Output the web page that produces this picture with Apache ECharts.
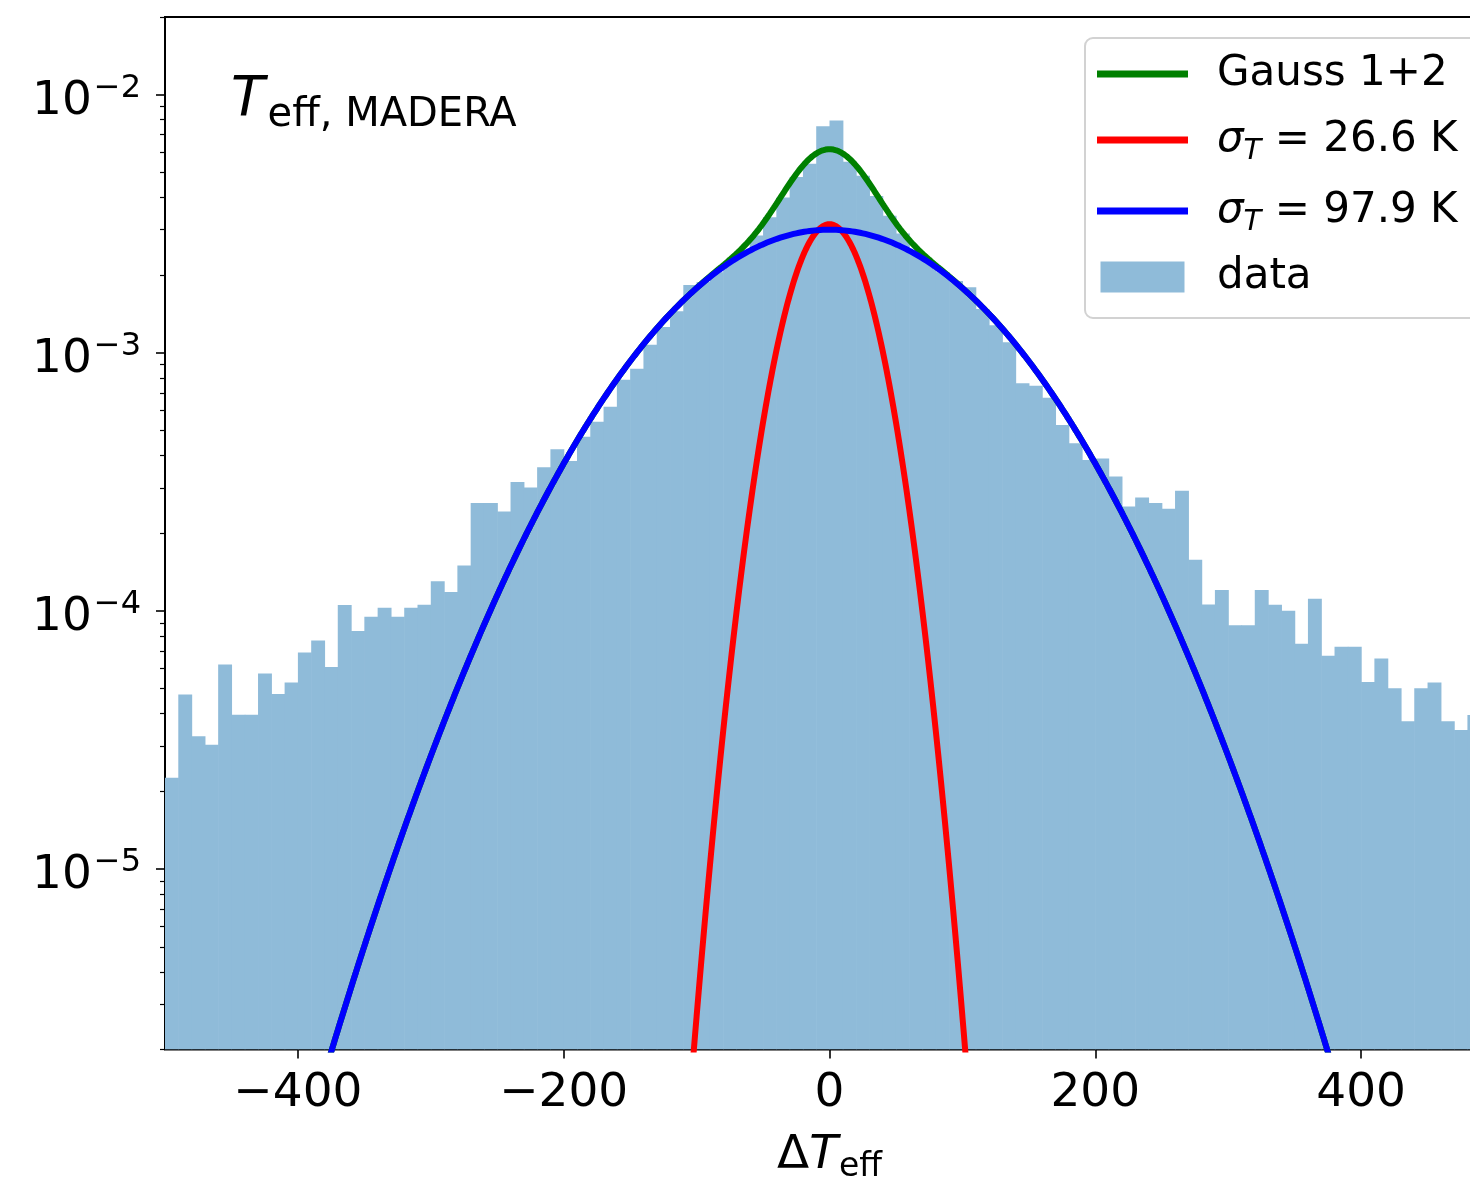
<!DOCTYPE html>
<html>
<head>
<meta charset="utf-8">
<script src="https://cdn.jsdelivr.net/npm/echarts@6/dist/echarts.min.js"></script>
<style>
  html, body { margin: 0; padding: 0; overflow: hidden; background: #ffffff; }
  #chart { width: 1500px; height: 1189px; }
</style>
</head>
<body>
<div id="chart"></div>
<script>
// Residual histogram ΔT_eff (density per K), 10 K bins from -500 K to +500 K
const binStart = -500;
const binWidth = 10;
const density = [
  2.26e-5, 4.75e-5, 3.27e-5, 3.03e-5, 6.20e-5, 3.96e-5, 3.96e-5, 5.72e-5, 4.77e-5, 5.28e-5,
  6.90e-5, 7.69e-5, 6.07e-5, 1.054e-4, 8.36e-5, 9.50e-5, 1.028e-4, 9.50e-5, 1.028e-4, 1.057e-4,
  1.304e-4, 1.185e-4, 1.50e-4, 2.62e-4, 2.62e-4, 2.43e-4, 3.16e-4, 3.01e-4, 3.60e-4, 4.23e-4,
  3.81e-4, 4.73e-4, 5.41e-4, 6.18e-4, 7.87e-4, 8.68e-4, 1.074e-3, 1.26e-3, 1.45e-3, 1.83e-3,
  1.88e-3, 2.05e-3, 2.25e-3, 2.50e-3, 2.85e-3, 3.35e-3, 4.00e-3, 4.80e-3, 5.40e-3, 7.55e-3,
  7.94e-3, 5.50e-3, 4.85e-3, 4.05e-3, 3.40e-3, 2.90e-3, 2.50e-3, 2.25e-3, 2.05e-3, 1.90e-3,
  1.795e-3, 1.48e-3, 1.28e-3, 1.10e-3, 7.62e-4, 7.46e-4, 6.70e-4, 5.25e-4, 4.46e-4, 3.84e-4,
  3.90e-4, 3.32e-4, 2.54e-4, 2.75e-4, 2.62e-4, 2.49e-4, 2.92e-4, 1.58e-4, 1.06e-4, 1.205e-4,
  8.81e-5, 8.81e-5, 1.205e-4, 1.057e-4, 1.002e-4, 7.47e-5, 1.114e-4, 6.71e-5, 7.27e-5, 7.27e-5,
  5.30e-5, 6.55e-5, 5.02e-5, 3.74e-5, 5.02e-5, 5.28e-5, 3.74e-5, 3.46e-5, 3.95e-5, 3.60e-5
];

// Two-component Gaussian fit (peak density, width in K)
const fitSigma = [26.6, 97.9];
const fitPeak = [3.15e-3, 3.0e-3];
const seriesNames = ['Gauss 1+2', 'σT = 26.6 K', 'σT = 97.9 K', 'data'];
const lineColors = ['#008000', '#ff0000', '#0000ff'];
const histColor = '#8fbbd9';

// Axes
const xRange = [-500, 500];
const yRange = [2e-6, 2e-2];
const xTickValues = [-400, -200, 0, 200, 400];
const yMajorTicks = [1e-5, 1e-4, 1e-3, 1e-2];
const yMinorTicks = [];
for (let e = -6; e <= -2; e++) {
  for (let m = 2; m <= 9; m++) {
    const v = m * Math.pow(10, e);
    if (v >= yRange[0] * 0.999 && v <= yRange[1] * 1.001) yMinorTicks.push(v);
  }
}

const FONT = 'DejaVu Sans';

const histData = density.map((v, i) => [binStart + i * binWidth, binStart + (i + 1) * binWidth, v]);

function gauss(x, peak, sigma) {
  return peak * Math.exp(-x * x / (2 * sigma * sigma));
}
const curveX = [];
for (let x = xRange[0]; x <= xRange[1]; x += 1) curveX.push(x);
const keep = p => p[1] > 1e-7;
const narrowCurve = curveX.map(x => [x, gauss(x, fitPeak[0], fitSigma[0])]).filter(keep);
const wideCurve = curveX.map(x => [x, gauss(x, fitPeak[1], fitSigma[1])]).filter(keep);
const sumCurve = curveX.map(x => [x, gauss(x, fitPeak[0], fitSigma[0]) + gauss(x, fitPeak[1], fitSigma[1])]).filter(keep);

function renderBin(params, api) {
  const x0 = api.value(0), x1 = api.value(1), v = api.value(2);
  const top = api.coord([x0, v]);
  const bottom = api.coord([x1, yRange[0]]);
  return {
    type: 'rect',
    shape: { x: top[0], y: top[1], width: bottom[0] - top[0] + 0.6, height: bottom[1] - top[1] },
    style: { fill: histColor }
  };
}

const legendText = {
  'Gauss 1+2': '{n|Gauss 1+2}',
  'σT = 26.6 K': '{g|σ}{sb|T}{m| = 26.6 K}',
  'σT = 97.9 K': '{g|σ}{sb|T}{m| = 97.9 K}',
  'data': '{n|data}'
};

const chart = echarts.init(document.getElementById('chart'), null, { renderer: 'canvas' });

chart.setOption({
  animation: false,
  backgroundColor: '#ffffff',
  title: {
    text: '{t|T}{s|eff, MADERA}',
    left: 231,
    top: 71,
    padding: 0,
    textStyle: {
      fontWeight: 'normal',
      rich: {
        t: { fontFamily: FONT, fontStyle: 'italic', fontWeight: 'normal', fontSize: 55, color: '#000', lineHeight: 60 },
        s: { fontFamily: FONT, fontWeight: 'normal', fontSize: 40, color: '#000', lineHeight: 60, padding: [29, 0, 0, 3] }
      }
    }
  },
  grid: {
    left: 165, top: 17, width: 1329, height: 1038,
    show: true, borderColor: '#000', borderWidth: 2, backgroundColor: 'transparent'
  },
  legend: {
    orient: 'vertical',
    left: 1085,
    top: 38,
    padding: [15, 22, 20, 12],
    itemWidth: 91,
    itemHeight: 31,
    itemGap: 19,
    symbolKeepAspect: true,
    backgroundColor: 'rgba(255,255,255,0.85)',
    borderColor: '#d2d2d2',
    borderWidth: 2,
    borderRadius: 8,
    selectedMode: false,
    data: [
      { name: seriesNames[0], icon: 'path://M0,0H91V7H0Z', itemStyle: { color: lineColors[0], borderWidth: 0 } },
      { name: seriesNames[1], icon: 'path://M0,0H91V7H0Z', itemStyle: { color: lineColors[1], borderWidth: 0 } },
      { name: seriesNames[2], icon: 'path://M0,0H91V7H0Z', itemStyle: { color: lineColors[2], borderWidth: 0 } },
      { name: seriesNames[3], icon: 'path://M0,0H84V31H0Z', itemStyle: { color: histColor, borderWidth: 0 } }
    ],
    formatter: name => legendText[name],
    textStyle: {
      color: '#000',
      rich: {
        n: { fontFamily: FONT, fontSize: 42, color: '#000', lineHeight: 31, padding: [0, 0, 0, 24] },
        m: { fontFamily: FONT, fontSize: 42, color: '#000', lineHeight: 31 },
        g: { fontFamily: FONT, fontStyle: 'italic', fontSize: 42, color: '#000', lineHeight: 31, padding: [0, 0, 0, 24] },
        sb: { fontFamily: FONT, fontStyle: 'italic', fontSize: 29, color: '#000', lineHeight: 31, padding: [23, 0, 0, 0] }
      }
    }
  },
  xAxis: {
    type: 'value',
    min: xRange[0],
    max: xRange[1],
    name: '{d|Δ}{t|T}{s|eff}',
    nameLocation: 'middle',
    nameGap: 78,
    nameTextStyle: {
      rich: {
        d: { fontFamily: FONT, fontSize: 47, color: '#000', lineHeight: 56 },
        t: { fontFamily: FONT, fontStyle: 'italic', fontSize: 47, color: '#000', lineHeight: 56 },
        s: { fontFamily: FONT, fontSize: 33, color: '#000', lineHeight: 56, padding: [24, 0, 0, 1] }
      }
    },
    axisLine: { show: false, onZero: false },
    splitLine: { show: false },
    axisTick: { show: true, length: 9, lineStyle: { color: '#000', width: 1.6 }, customValues: xTickValues },
    axisLabel: {
      customValues: xTickValues,
      margin: 21,
      fontFamily: FONT,
      fontSize: 47,
      color: '#000',
      formatter: v => (v < 0 ? '\u2212' + Math.abs(v) : String(v))
    }
  },
  yAxis: [
    {
      type: 'log',
      min: yRange[0],
      max: yRange[1],
      position: 'left',
      axisLine: { show: false, onZero: false },
      splitLine: { show: false },
      axisTick: { show: true, length: 9, lineStyle: { color: '#000', width: 1.6 }, customValues: yMajorTicks },
      axisLabel: {
        customValues: yMajorTicks,
        margin: 24,
        padding: [14, 0, 0, 0],
        formatter: v => '{b|10}{p|\u2212' + Math.round(-Math.log10(v)) + '}',
        rich: {
          b: { fontFamily: FONT, fontSize: 47, color: '#000' },
          p: { fontFamily: FONT, fontSize: 32, color: '#000', padding: [0, 0, 26, 2] }
        }
      }
    },
    {
      // minor ticks of the log axis
      type: 'log',
      min: yRange[0],
      max: yRange[1],
      position: 'left',
      offset: 0,
      axisLine: { show: false, onZero: false },
      splitLine: { show: false },
      axisLabel: { show: false },
      axisTick: { show: true, length: 5, lineStyle: { color: '#000', width: 1.2 }, customValues: yMinorTicks }
    }
  ],
  series: [
    {
      type: 'custom',
      name: seriesNames[3],
      data: histData,
      encode: { x: [0, 1], y: 2 },
      renderItem: renderBin,
      clip: true,
      silent: true,
      itemStyle: { color: histColor },
      z: 1
    },
    {
      type: 'line',
      name: seriesNames[0],
      data: sumCurve,
      symbol: 'none',
      showSymbol: false,
      clip: true,
      silent: true,
      lineStyle: { width: 6, color: lineColors[0] },
      itemStyle: { color: lineColors[0] },
      z: 2
    },
    {
      type: 'line',
      name: seriesNames[1],
      data: narrowCurve,
      symbol: 'none',
      showSymbol: false,
      clip: true,
      silent: true,
      lineStyle: { width: 6, color: lineColors[1] },
      itemStyle: { color: lineColors[1] },
      z: 3
    },
    {
      type: 'line',
      name: seriesNames[2],
      data: wideCurve,
      symbol: 'none',
      showSymbol: false,
      clip: true,
      silent: true,
      lineStyle: { width: 6, color: lineColors[2] },
      itemStyle: { color: lineColors[2] },
      z: 4
    }
  ]
});
</script>
</body>
</html>
